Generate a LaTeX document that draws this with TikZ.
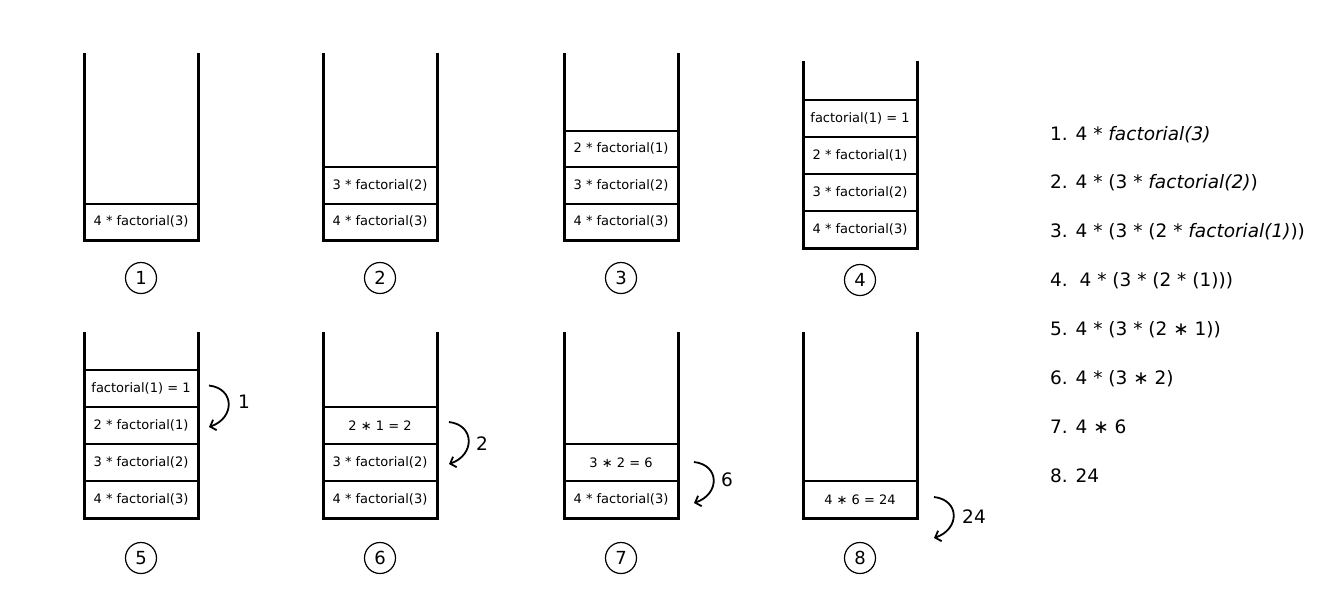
\documentclass[tikz,border=0pt]{standalone}
\usepackage{fontspec}
\setmainfont{DejaVu Sans}
\usetikzlibrary{calc,arrows.meta}
\begin{document}
\begin{tikzpicture}[x=1pt,y=-1pt,
  cell/.style={draw, line width=2pt, minimum width=114pt, minimum height=37pt, inner sep=0pt, font=\fontsize{13}{15}\selectfont},
  cellb/.style={cell, minimum height=36.5pt},
  wall/.style={line width=3pt, line join=miter},
  arr/.style={line width=1.8pt, -{Straight Barb[length=5pt,width=11pt,line width=1.8pt]}},
  num/.style={draw, circle, line width=1.2pt, minimum size=31pt, inner sep=0pt, font=\fontsize{18}{20}\selectfont},
  lbl/.style={font=\fontsize{18.5}{22}\selectfont, inner sep=0pt},
  item/.style={font=\fontsize{18.5}{22}\selectfont, anchor=base west, inner sep=0pt}]
\useasboundingbox (0,0) rectangle (1326,603);

% ---------- row 1 ----------
\node[cellb] (s1a) at (141,221.75) {4 * factorial(3)};
\draw[wall] (84,53) -- (84,240) -- (198,240) -- (198,53);

\node[cellb] (s2a) at (380,221.75) {4 * factorial(3)};
\node[cellb] (s2b) at (380,185.25) {3 * factorial(2)};
\draw[wall] (323,53) -- (323,240) -- (437,240) -- (437,53);

\node[cellb] (s3a) at (621,221.75) {4 * factorial(3)};
\node[cellb] (s3b) at (621,185.25) {3 * factorial(2)};
\node[cellb] (s3c) at (621,148.75) {2 * factorial(1)};
\draw[wall] (564,53) -- (564,240) -- (678,240) -- (678,53);

\node[cell] (s4a) at (860,229.5) {4 * factorial(3)};
\node[cell] (s4b) at (860,192.5) {3 * factorial(2)};
\node[cell] (s4c) at (860,155.5) {2 * factorial(1)};
\node[cell] (s4d) at (860,118.5) {factorial(1) = 1};
\draw[wall] (803,61) -- (803,248) -- (917,248) -- (917,61);

\node[num] (n1) at (141,278) {1};
\node[num] (n2) at (380,278) {2};
\node[num] (n3) at (621,278) {3};
\node[num] (n4) at (860,280) {4};

% ---------- row 2 ----------
\node[cell] (s5a) at (141,499.5) {4 * factorial(3)};
\node[cell] (s5b) at (141,462.5) {3 * factorial(2)};
\node[cell] (s5c) at (141,425.5) {2 * factorial(1)};
\node[cell] (s5d) at (141,388.5) {factorial(1) = 1};
\draw[wall] (84,332) -- (84,518) -- (198,518) -- (198,332);

\node[cell] (s6a) at (380,499.5) {4 * factorial(3)};
\node[cell] (s6b) at (380,462.5) {3 * factorial(2)};
\node[cell] (s6c) at (380,425.5) {2 ∗ 1 = 2};
\draw[wall] (323,332) -- (323,518) -- (437,518) -- (437,332);

\node[cell] (s7a) at (621,499.5) {4 * factorial(3)};
\node[cell] (s7b) at (621,462.5) {3 ∗ 2 = 6};
\draw[wall] (564,332) -- (564,518) -- (678,518) -- (678,332);

\node[cell] (s8a) at (860,499.5) {4 ∗ 6 = 24};
\draw[wall] (803,332) -- (803,518) -- (917,518) -- (917,332);

\node[num] (n5) at (141,558) {5};
\node[num] (n6) at (380,558) {6};
\node[num] (n7) at (621,558) {7};
\node[num] (n8) at (860,558) {8};

% ---------- return arrows ----------
\coordinate (a5s) at ($(s5d.east)+(10,-3)$);
\coordinate (a5e) at ($(s5c.east)+(10,1.5)$);
\draw[arr] (a5s) .. controls ($(a5s)+(26,3)$) and ($(a5e)+(26,-9)$) .. (a5e);
\node[lbl] (l5) at ($(a5s)+(35,16)$) {1};

\coordinate (a6s) at ($(s6c.east)+(11,-3.5)$);
\coordinate (a6e) at ($(s6b.east)+(11,1.5)$);
\draw[arr] (a6s) .. controls ($(a6s)+(26,3)$) and ($(a6e)+(26,-9)$) .. (a6e);
\node[lbl] (l6) at ($(a6s)+(33,22)$) {2};

\coordinate (a7s) at ($(s7b.east)+(15,-0.5)$);
\coordinate (a7e) at ($(s7a.east)+(15,3.5)$);
\draw[arr] (a7s) .. controls ($(a7s)+(26,3)$) and ($(a7e)+(26,-9)$) .. (a7e);
\node[lbl] (l7) at ($(a7s)+(33,18)$) {6};

\coordinate (a8s) at ($(s8a.east)+(16,-2.5)$);
\coordinate (a8e) at ($(s8a.east)+(16,38.5)$);
\draw[arr] (a8s) .. controls ($(a8s)+(26,3)$) and ($(a8e)+(26,-9)$) .. (a8e);
\node[lbl] (l8) at ($(a8s)+(40,20)$) {24};

% ---------- expansion list ----------
\node[item] (t1) at (1050,140) {1. 4 * \textit{factorial(3)}};
\node[item] (t2) at (1050,188.9) {2. 4 * (3 * \textit{factorial(2)})};
\node[item] (t3) at (1050,237.7) {3. 4 * (3 * (2 * \textit{factorial(1)}))};
\node[item] (t4) at (1050,286.6) {4.\ \ 4 * (3 * (2 * (1)))};
\node[item] (t5) at (1050,335.4) {5. 4 * (3 * (2 ∗ 1))};
\node[item] (t6) at (1050,384.3) {6. 4 * (3 ∗ 2)};
\node[item] (t7) at (1050,433.1) {7. 4 ∗ 6};
\node[item] (t8) at (1050,482) {8. 24};
\end{tikzpicture}
\end{document}
